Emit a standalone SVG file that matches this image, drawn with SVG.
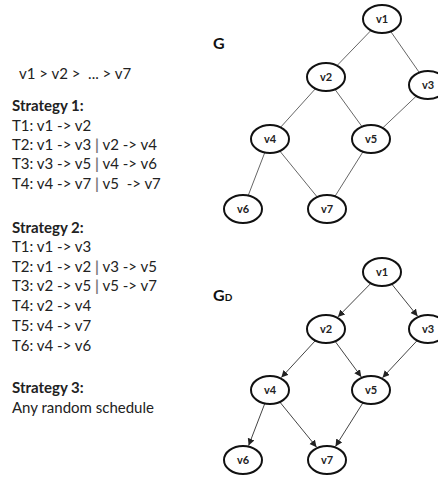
<svg xmlns="http://www.w3.org/2000/svg" width="438" height="480" viewBox="0 0 438 480">
<style>
.t{font-family:Lato,"Open Sans","Liberation Sans",sans-serif;font-size:15px;fill:#222;white-space:pre}
.b{font-weight:bold}
.p{fill:#777;font-weight:bold}
.n ellipse{fill:#fff;stroke:#111;stroke-width:2}
.n text{font-family:Lato,"Open Sans","Liberation Sans",sans-serif;font-size:11px;font-weight:bold;fill:#222;text-anchor:middle}
.e line{stroke:#666;stroke-width:1}
.d line{stroke:#444;stroke-width:1;marker-end:url(#ah)}
.lbl{font-family:Lato,"Open Sans","Liberation Sans",sans-serif;font-weight:bold;fill:#111}
</style>
<defs>
<marker id="ah" markerUnits="userSpaceOnUse" markerWidth="8" markerHeight="8" refX="7" refY="3.5" orient="auto">
<path d="M0,0 L7,3.5 L0,7 Z" fill="#222"/>
</marker>
</defs>
<rect width="438" height="480" fill="#fff"/>

<g id="text-left">
<text class="t" x="19" y="79">v1 &gt; v2 &gt;  ... &gt; v7</text>
<text class="t b" x="12" y="111">Strategy 1:</text>
<text class="t" x="12" y="131">T1: v1 -&gt; v2</text>
<text class="t" x="12" y="150">T2: v1 -&gt; v3 <tspan class="p">|</tspan> v2 -&gt; v4</text>
<text class="t" x="12" y="169">T3: v3 -&gt; v5 <tspan class="p">|</tspan> v4 -&gt; v6</text>
<text class="t" x="12" y="189">T4: v4 -&gt; v7 <tspan class="p">|</tspan> v5  -&gt; v7</text>
<text class="t b" x="12" y="233">Strategy 2:</text>
<text class="t" x="12" y="252">T1: v1 -&gt; v3</text>
<text class="t" x="12" y="272">T2: v1 -&gt; v2 <tspan class="p">|</tspan> v3 -&gt; v5</text>
<text class="t" x="12" y="291">T3: v2 -&gt; v5 <tspan class="p">|</tspan> v5 -&gt; v7</text>
<text class="t" x="12" y="311">T4: v2 -&gt; v4</text>
<text class="t" x="12" y="331">T5: v4 -&gt; v7</text>
<text class="t" x="12" y="351">T6: v4 -&gt; v6</text>
<text class="t b" x="12" y="393">Strategy 3:</text>
<text class="t" x="12" y="413">Any random schedule</text>
</g>

<text class="lbl" x="213" y="49" font-size="16">G</text>
<text class="lbl" x="213" y="301" font-size="16">G<tspan font-size="10">D</tspan></text>

<g id="edges-G" class="e">
<line x1="382" y1="19" x2="326" y2="77"/>
<line x1="382" y1="19" x2="428" y2="85"/>
<line x1="326" y1="77" x2="270" y2="139"/>
<line x1="326" y1="77" x2="371" y2="139"/>
<line x1="428" y1="85" x2="371" y2="139"/>
<line x1="270" y1="139" x2="243" y2="209"/>
<line x1="270" y1="139" x2="327" y2="209"/>
<line x1="371" y1="139" x2="327" y2="209"/>
</g>

<g id="G-v1" class="n"><ellipse cx="382" cy="19" rx="19" ry="14"/><text x="382" y="23">v1</text></g>
<g id="G-v2" class="n"><ellipse cx="326" cy="77" rx="19" ry="14"/><text x="326" y="81">v2</text></g>
<g id="G-v3" class="n"><ellipse cx="428" cy="85" rx="19" ry="14"/><text x="428" y="89">v3</text></g>
<g id="G-v4" class="n"><ellipse cx="270" cy="139" rx="19" ry="14"/><text x="270" y="143">v4</text></g>
<g id="G-v5" class="n"><ellipse cx="371" cy="139" rx="19" ry="14"/><text x="371" y="143">v5</text></g>
<g id="G-v6" class="n"><ellipse cx="243" cy="209" rx="19" ry="14"/><text x="243" y="213">v6</text></g>
<g id="G-v7" class="n"><ellipse cx="327" cy="209" rx="19" ry="14"/><text x="327" y="213">v7</text></g>

<g id="edges-GD" class="d">
<line x1="370.9" y1="283.3" x2="337.9" y2="316.9"/>
<line x1="391.7" y1="284" x2="417.6" y2="316.2"/>
<line x1="315.4" y1="340.6" x2="281.3" y2="377.6"/>
<line x1="335.1" y1="341.3" x2="361.3" y2="376.9"/>
<line x1="417.2" y1="340.5" x2="382.5" y2="377.7"/>
<line x1="264.8" y1="403.5" x2="248.6" y2="445.6"/>
<line x1="279.8" y1="402" x2="316.6" y2="447.2"/>
<line x1="363" y1="402.7" x2="335.5" y2="446.4"/>
</g>

<g id="GD-v1" class="n"><ellipse cx="382" cy="272" rx="19" ry="14"/><text x="382" y="276">v1</text></g>
<g id="GD-v2" class="n"><ellipse cx="326" cy="329" rx="19" ry="14"/><text x="326" y="333">v2</text></g>
<g id="GD-v3" class="n"><ellipse cx="428" cy="329" rx="19" ry="14"/><text x="428" y="333">v3</text></g>
<g id="GD-v4" class="n"><ellipse cx="270" cy="390" rx="19" ry="14"/><text x="270" y="394">v4</text></g>
<g id="GD-v5" class="n"><ellipse cx="371" cy="390" rx="19" ry="14"/><text x="371" y="394">v5</text></g>
<g id="GD-v6" class="n"><ellipse cx="243" cy="460" rx="19" ry="14"/><text x="243" y="464">v6</text></g>
<g id="GD-v7" class="n"><ellipse cx="327" cy="460" rx="19" ry="14"/><text x="327" y="464">v7</text></g>
</svg>
